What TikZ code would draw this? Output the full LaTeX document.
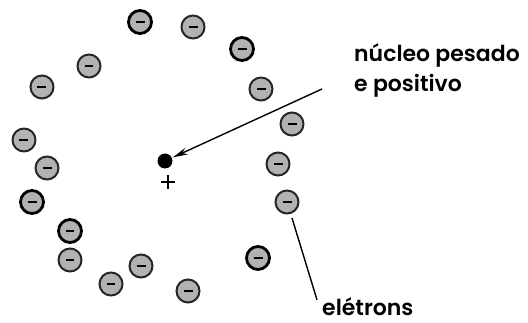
\documentclass[tikz,border=0pt]{standalone}
\usepackage{fontspec}
\newfontfamily\labelfont{Poppins SemiBold}
\usetikzlibrary{arrows.meta}

\tikzset{
  electron/.style={circle,draw=black!85,fill=black!30,line width=2pt,
                   minimum size=23pt,inner sep=0pt},
  heavy/.style={line width=2.8pt,draw=black},
  annot/.style={font=\labelfont\fontsize{22}{30}\selectfont,align=left,inner sep=0pt}
}

\begin{document}
\begin{tikzpicture}[x=1pt,y=-1pt]
        \useasboundingbox (0,0) rectangle (528,323);

        % the electrons round the nucleus
        \foreach \n/\x/\y/\w in {1/140/22/heavy, 2/193/27/, 3/242/49/heavy,
                                 4/89/66/, 5/42/87/, 6/261/89/,
                                 7/292/124/, 8/24/140/, 9/47/168/,
                                 10/278/164/, 11/32/202/heavy, 12/287/202/,
                                 13/70/231/heavy, 14/70/260/, 15/258/258/heavy,
                                 16/141/266/, 17/111/284/, 18/188/291/}
            \node (e\n) at (\x,\y) [electron,\w] {\rule[-1.4pt]{9pt}{2.8pt}};

        % nucleus and its charge
        \node (nucleus) at (165,161) [circle,fill=black,minimum size=15pt,inner sep=0pt] {};
        \node (plus)    at (165,182) [inner sep=0pt] {\rule[-1pt]{14pt}{2pt}\hspace{-8pt}\rule[-7pt]{2pt}{14pt}\hspace{6pt}};

        % labels
        \node (nucleo)   at (354,92)  [annot,anchor=base west] {núcleo pesado\\e positivo};
        \node (eletrons) at (322,316) [annot,anchor=base west] {elétrons};

        \coordinate (tail) at (322,89);
        \draw[-{Stealth[length=15pt,width=7pt]},line width=1.4pt,shorten >=1pt] (tail) -- (nucleus);
        \draw[line width=1.4pt] (e12) ++(5,16) -- ([xshift=-5pt,yshift=-2pt]eletrons.north west);
\end{tikzpicture}
\end{document}
